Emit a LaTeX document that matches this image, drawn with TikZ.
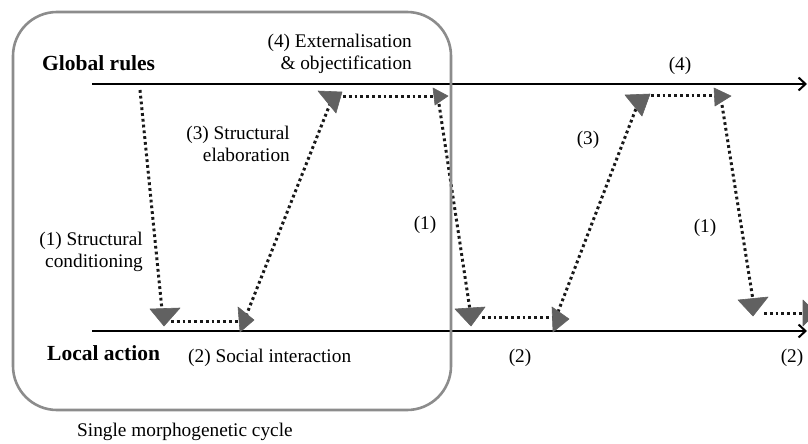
\documentclass[tikz,border=0pt]{standalone}
\usepackage{fontspec}
\setmainfont{Liberation Serif}
\usetikzlibrary{arrows.meta}
\begin{document}
\begin{tikzpicture}[x=1pt,y=-1pt,
  axis/.style={line width=2.4pt, -{Straight Barb[length=7pt,width=13pt,line width=2pt]}},
  flow/.style={line width=3pt, black!90, dash pattern=on 2.8pt off 3pt},
  head/.style={fill=black!62, draw=black!62, line width=0.6pt, line join=round},
  lbl/.style={font=\rmfamily\fontsize{19.3}{22.5}\selectfont, align=center, inner sep=0pt},
  lblr/.style={lbl, align=right},
  ttl/.style={font=\rmfamily\fontsize{21.5}{24}\selectfont\bfseries, inner sep=0pt},
  cyclebox/.style={draw=black!45, line width=2.6pt, rounded corners=44pt}]

\useasboundingbox (0,0) rectangle (808,444);

% the two time axes
\coordinate (g0) at (92,84);
\coordinate (g1) at (807,84);
\coordinate (l0) at (92,331);
\coordinate (l1) at (807,331);
\draw[axis] (g0) -- (g1);
\draw[axis] (l0) -- (l1);

% end points of the dotted transitions
\coordinate (c1a) at (140,90);   \coordinate (c1b) at (162,310);
\coordinate (s1a) at (171,321);  \coordinate (s1b) at (238,321);
\coordinate (e1a) at (246,316);  \coordinate (e1b) at (330,104);
\coordinate (x1a) at (343,96);   \coordinate (x1b) at (433,96);
\coordinate (c2a) at (439,104);  \coordinate (c2b) at (470,310);
\coordinate (s2a) at (482,317);  \coordinate (s2b) at (552,317);
\coordinate (e2a) at (558,312);  \coordinate (e2b) at (637,106);
\coordinate (x2a) at (651,95);   \coordinate (x2b) at (714,95);
\coordinate (c3a) at (722,105);  \coordinate (c3b) at (753,300);
\coordinate (s3a) at (764,313);  \coordinate (s3b) at (803,313);

\foreach \p in {c1,s1,e1,x1,c2,s2,e2,x2,c3,s3}
  \draw[flow] (\p a) -- (\p b);

% triangular heads
\fill[head] (150,309) -- (180,308) -- (164,326) -- cycle;
\fill[head] (238,307) -- (254,320) -- (240,332) -- cycle;
\fill[head] (318,91) -- (342,92) -- (336,113) -- cycle;
\fill[head] (433,88) -- (448,96) -- (435,105) -- cycle;
\fill[head] (455,309) -- (485,307) -- (471,326) -- cycle;
\fill[head] (552,307) -- (569,319) -- (553,332) -- cycle;
\fill[head] (625,95) -- (650,94) -- (642,116) -- cycle;
\fill[head] (714,88) -- (731,96) -- (715,106) -- cycle;
\fill[head] (738,300) -- (768,297) -- (753,316) -- cycle;
\fill[head] (803,300) -- (816,313) -- (803,326) -- cycle;

% single cycle frame
\draw[cyclebox] (13,12) rectangle (451,410);

% labels
\node[ttl, anchor=west] (global) at (42,63) {Global rules};
\node[ttl, anchor=west] (local) at (47,353) {Local action};
\node[lblr, anchor=east] (ext) at (412,54) {(4) Externalisation\\\& objectification};
\node[lblr, anchor=east] (elab) at (290,144) {(3) Structural\\elaboration};
\node[lblr, anchor=east] (cond) at (143,252) {(1) Structural\\conditioning};
\node[lbl, anchor=west] (soc) at (188,358) {(2) Social interaction};
\node[lbl, anchor=west] (single) at (77,432) {Single morphogenetic cycle};
\node[lbl] (n1a) at (425,225) {(1)};
\node[lbl] (n2a) at (520,358) {(2)};
\node[lbl] (n3a) at (588,140) {(3)};
\node[lbl] (n4a) at (680,66) {(4)};
\node[lbl] (n1b) at (705,228) {(1)};
\node[lbl] (n2b) at (792,358) {(2)};
\end{tikzpicture}
\end{document}
